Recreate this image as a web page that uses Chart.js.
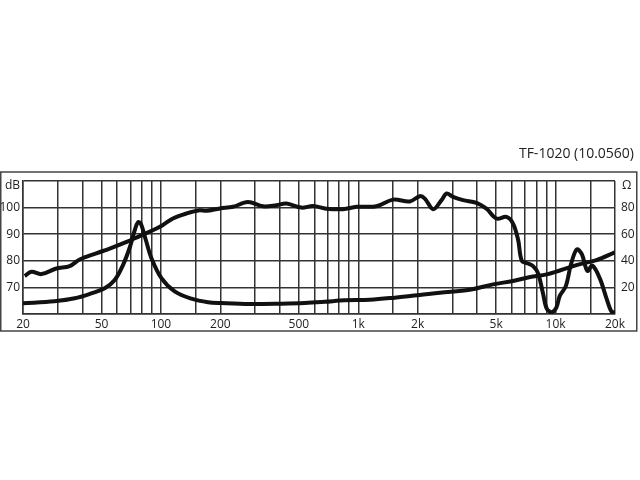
<!DOCTYPE html>
<html>
<head>
<meta charset="utf-8">
<script src="https://cdn.jsdelivr.net/npm/chart.js@4"></script>
<style>
  html, body { margin: 0; padding: 0; background: #fff; }
  canvas { display: block; }
</style>
</head>
<body>
<canvas id="chart" width="640" height="480"></canvas>
<script>
// frequency response (dB, left axis)
const splFreq = [20.4, 22.1, 24.8, 29.5, 34.5, 38.8, 47, 55, 67, 78, 91, 102, 115, 135, 157, 170, 199, 232, 276, 329, 385, 432, 515, 590, 690, 837, 980, 1236, 1500, 1824, 2050, 2174, 2395, 2642, 2800, 3022, 3398, 3973, 4464, 5015, 5637, 6085, 6454, 6741, 7230, 7690, 8150, 8646, 9020, 9570, 10100, 10500, 11270, 11950, 12800, 13580, 14490, 15350, 16750, 18110, 19190, 19950];
const splDb = [74.3, 75.9, 75.0, 77.1, 78.0, 80.5, 82.8, 84.6, 87.1, 89.3, 91.5, 93.4, 95.9, 97.8, 99.0, 98.8, 99.7, 100.3, 102.1, 100.5, 100.9, 101.5, 100.0, 100.6, 99.6, 99.4, 100.3, 100.5, 103.0, 102.3, 104.3, 103.4, 99.4, 102.8, 105.3, 104.0, 102.8, 101.8, 99.6, 95.9, 96.5, 94.0, 88, 80, 79, 78, 75.3, 67.5, 62, 60.7, 62.5, 66.8, 70.5, 78.5, 84.3, 82.5, 76.2, 78.2, 73.4, 65.9, 60.9, 60.6];

// impedance (ohm, right axis)
const impFreq = [20, 28.9, 36.6, 44.4, 51.9, 58.3, 64.3, 69.5, 73.7, 76.5, 79, 83.7, 89.5, 100.6, 117.4, 142.8, 173.3, 202.6, 281.8, 408, 536, 676, 854, 1143, 1531, 2050, 2589, 3673, 4821, 6085, 7245, 9145, 12760, 16110, 19950];
const impOhm = [8.0, 9.6, 11.8, 15.5, 19.3, 25.5, 37, 50, 63, 69, 68, 56, 42, 27, 17, 11.5, 8.8, 8.2, 7.5, 7.8, 8.3, 9.2, 10.3, 10.7, 12.3, 14.3, 16, 18.2, 22.3, 24.8, 27.5, 30, 36.8, 40.5, 46.3];

// grid lines and labels
const freqGrid = [20, 30, 40, 50, 60, 70, 80, 90, 100, 150, 200, 300, 400, 500, 600, 700, 800, 900, 1000, 1500, 2000, 3000, 4000, 5000, 6000, 7000, 8000, 9000, 10000, 15000, 20000];
const freqLabels = { 20: '20', 50: '50', 100: '100', 200: '200', 500: '500', 1000: '1k', 2000: '2k', 5000: '5k', 10000: '10k', 20000: '20k' };
const dbLabels = [70, 80, 90, 100];
const ohmLabels = [20, 40, 60, 80];
const title = 'TF-1020 (10.0560)';

const FONT = '"Open Sans", "DejaVu Sans", sans-serif';
const INK = '#222';
const GRID = '#333';

const framePlugin = {
  id: 'frame',
  afterDraw(chart) {
    const ctx = chart.ctx;
    const area = chart.chartArea;
    ctx.save();
    ctx.strokeStyle = '#444';
    ctx.lineWidth = 1.5;
    ctx.strokeRect(0.75, 172, 636, 159);
    ctx.fillStyle = INK;
    ctx.font = '14px ' + FONT;
    ctx.textAlign = 'right';
    ctx.textBaseline = 'middle';
    ctx.fillText(title, 634, 154);
    ctx.font = '12px ' + FONT;
    ctx.fillText('dB', area.left - 3, area.top + 5);
    ctx.textAlign = 'left';
    ctx.fillText('Ω', area.right + 7, area.top + 5);
    ctx.restore();
  }
};

new Chart(document.getElementById('chart'), {
  type: 'line',
  data: {
    datasets: [{
      label: 'dB',
      data: splFreq.map((f, i) => ({ x: f, y: splDb[i] })),
      yAxisID: 'y',
      borderColor: '#111',
      borderWidth: 4,
      pointRadius: 0,
      tension: 0.35,
      fill: false
    }, {
      label: 'Ω',
      data: impFreq.map((f, i) => ({ x: f, y: impOhm[i] })),
      yAxisID: 'y2',
      borderColor: '#111',
      borderWidth: 4,
      pointRadius: 0,
      tension: 0.35,
      fill: false
    }]
  },
  options: {
    responsive: false,
    animation: false,
    layout: { padding: { top: 181, left: 0, right: 0, bottom: 146 } },
    plugins: {
      legend: { display: false },
      tooltip: { enabled: false }
    },
    scales: {
      x: {
        type: 'logarithmic',
        min: 20,
        max: 20000,
        afterBuildTicks: s => { s.ticks = freqGrid.map(v => ({ value: v })); },
        afterFit: s => { s.height = 20; },
        grid: { color: GRID, lineWidth: 1.5, drawTicks: false },
        border: { color: GRID, width: 1.5 },
        ticks: {
          autoSkip: false,
          maxRotation: 0,
          padding: 3,
          color: INK,
          font: { family: FONT, size: 12 },
          callback: v => freqLabels[v] || ''
        }
      },
      y: {
        position: 'left',
        min: 60,
        max: 110,
        afterFit: s => { s.width = 23; },
        grid: { color: GRID, lineWidth: 1.5, drawTicks: false },
        border: { color: GRID, width: 1.5 },
        ticks: {
          stepSize: 5,
          padding: 3,
          color: INK,
          font: { family: FONT, size: 12 },
          callback: v => dbLabels.includes(v) ? String(v) : ''
        }
      },
      y2: {
        position: 'right',
        min: 0,
        max: 100,
        afterFit: s => { s.width = 25; },
        grid: { display: false, drawTicks: false },
        border: { display: false },
        ticks: {
          stepSize: 10,
          padding: 6,
          color: INK,
          font: { family: FONT, size: 12 },
          callback: v => ohmLabels.includes(v) ? String(v) : ''
        }
      }
    }
  },
  plugins: [framePlugin]
});
</script>
</body>
</html>
